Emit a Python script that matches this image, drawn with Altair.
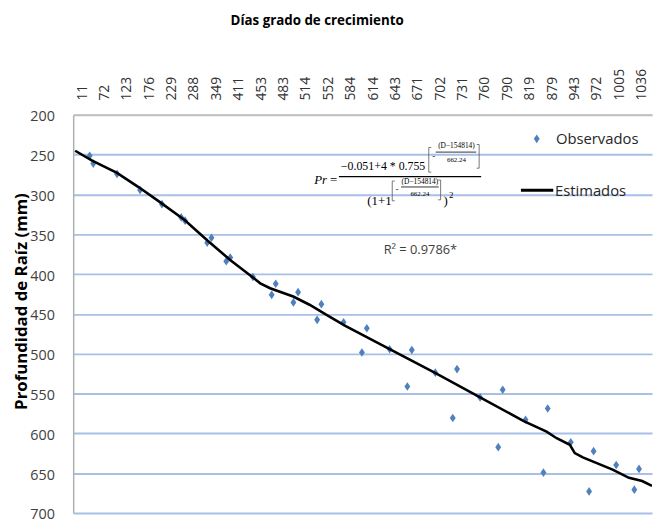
import altair as alt
import pandas as pd

# ---------------- data ----------------
cat_labels = ["11", "72", "123", "176", "229", "288", "349", "411", "453", "483",
              "514", "552", "584", "614", "643", "671", "702", "731", "760", "790",
              "819", "879", "943", "972", "1005", "1036"]

# observed points (position along the category axis, depth mm)
obs_pos = [0.34, 0.50, 1.56, 2.59, 3.57, 4.43, 4.60, 5.59, 5.78, 6.44, 6.62, 7.63,
           8.47, 8.65, 9.44, 9.65, 10.50, 10.69, 11.68, 12.50, 12.72, 13.74, 14.53,
           14.73, 15.78, 16.56, 16.75, 17.78, 18.59, 18.79, 19.81, 20.61, 20.80,
           21.83, 22.65, 22.85, 23.86, 24.67, 24.88]
obs_depth = [251.3, 261.2, 274.2, 294.4, 312.2, 328.8, 332.9, 360.6, 354.4, 383.9,
             379.3, 403.7, 426.1, 412.2, 435.6, 422.7, 457.5, 437.8, 460.5, 498.5,
             468.0, 494.4, 541.2, 495.3, 523.8, 580.8, 519.3, 554.9, 617.4, 545.3,
             583.0, 649.3, 568.9, 611.2, 673.0, 622.4, 639.8, 670.8, 644.7]

# estimated curve
est_pos = [-0.31, 0.45, 1.56, 2.52, 3.40, 4.58, 5.60, 6.63, 7.59, 7.96, 8.40, 9.43,
           10.16, 10.90, 11.78, 13.74, 15.77, 17.78, 19.73, 20.75, 21.20, 21.79,
           22.01, 22.37, 23.70, 24.43, 25.02, 25.46]
est_depth = [245.1, 257.5, 272.9, 290.7, 308.0, 332.0, 357.8, 382.6, 403.4, 411.6,
             417.8, 428.2, 438.5, 450.9, 465.5, 494.4, 524.2, 554.9, 584.7, 597.9,
             606.2, 614.5, 624.8, 630.2, 645.6, 655.9, 660.0, 666.0]

y_ticks = [200, 250, 300, 350, 400, 450, 500, 550, 600, 650, 700]

title_text = "Días grado de crecimiento"
ytitle_text = "Profundidad de Raíz (mm)"
legend_obs = "Observados"
legend_est = "Estimados"
r2_text = "R² = 0.9786*"

obs_df = pd.DataFrame({"pos": obs_pos, "depth": obs_depth})
est_df = pd.DataFrame({"pos": est_pos, "depth": est_depth})
one = pd.DataFrame({"a": [0]})

# ---------------- styles ----------------
FONT = "Open Sans, Noto Sans, sans-serif"
FONT_SERIF = "Liberation Serif, Times New Roman, serif"
BLUE = "#4f81bd"
DIAMOND = "M0,-1.25L0.85,0L0,1.25L-0.85,0Z"

label_expr = "[" + ",".join("'%s'" % l for l in cat_labels) + "][datum.value]"

xscale = alt.Scale(domain=[-0.397, 25.46], nice=False, zero=False)
yscale = alt.Scale(domain=[200, 700], reverse=True, nice=False, zero=False)

xaxis = alt.Axis(orient="top", values=list(range(len(cat_labels))), labelExpr=label_expr,
                 labelAngle=270, labelAlign="left", labelBaseline="middle",
                 labelPadding=15, ticks=False, tickSize=0, grid=False,
                 domainColor="#bfbfbf", domainWidth=1.5, labelFont=FONT,
                 labelFontSize=14, labelColor="#333333", title=None,
                 labelOverlap=False, labelFlush=False, labelBound=False, zindex=1)

yaxis = alt.Axis(values=y_ticks, grid=True,
                 gridColor={"condition": {"test": "datum.value === 200", "value": "#bfbfbf"},
                            "value": "#a8bfe6"},
                 gridWidth=2, ticks=False, tickSize=0, labelPadding=19, labelOffset=2,
                 labelFont=FONT, labelFontSize=14.5, labelColor="#404040",
                 domainColor="#b0b0b0", domainWidth=1.5, title=None,
                 labelOverlap=False, labelFlush=False)

X = alt.X("pos:Q", scale=xscale, axis=xaxis)
Y = alt.Y("depth:Q", scale=yscale, axis=yaxis)

points = alt.Chart(obs_df).mark_point(shape=DIAMOND, size=49, filled=True, color=BLUE,
                                      opacity=1).encode(x=X, y=Y)

line = alt.Chart(est_df).mark_line(color="black", strokeWidth=2.6, clip=True).encode(
    x=X, y=Y)


def txt(s, x, y, size, font, align="left", color="#000000", weight=None, style=None,
        angle=None):
    kw = dict(align=align, baseline="middle", fontSize=size, font=font, color=color)
    if weight:
        kw["fontWeight"] = weight
    if style:
        kw["fontStyle"] = style
    if angle is not None:
        kw["angle"] = angle
    return alt.Chart(one).mark_text(**kw).encode(
        x=alt.value(x), y=alt.value(y), text=alt.value(s))


def hrule(x1, x2, y, width, color="#000000"):
    return alt.Chart(one).mark_rule(color=color, strokeWidth=width).encode(
        x=alt.value(x1), x2=alt.value(x2), y=alt.value(y))


def vrule(x, y1, y2, width, color="#000000"):
    return alt.Chart(one).mark_rule(color=color, strokeWidth=width).encode(
        x=alt.value(x), y=alt.value(y1), y2=alt.value(y2))


def bracket(x, y1, y2, left=True, color="#555555"):
    d = 2.5 if left else -2.5
    return [vrule(x, y1, y2, 0.8, color),
            hrule(x, x + d, y1, 0.8, color),
            hrule(x, x + d, y2, 0.8, color)]


annots = [
    # title and y title
    txt(title_text, 247, -95, 13.5, FONT, align="center", weight="bold"),
    txt(ytitle_text, -52, 189, 17, FONT, align="center", weight="bold", angle=270),
    # legend
    alt.Chart(one).mark_point(shape=DIAMOND, size=49, filled=True, color=BLUE,
                              opacity=1).encode(x=alt.value(469.3), y=alt.value(24.3)),
    txt(legend_obs, 488.7, 24.5, 15, FONT, color="#262626"),
    hrule(453.3, 486, 76.3, 3),
    txt(legend_est, 487.7, 77, 15, FONT, color="#262626"),
    # R2
    txt(r2_text, 314.3, 137, 13, FONT, color="#404040"),
    # formula
    txt("Pr", 244, 66, 13, FONT_SERIF, style="italic"),
    txt("=", 260, 66, 13, FONT_SERIF),
    txt("−0.051+4 * 0.755", 271, 52, 12, FONT_SERIF),
    txt("-", 363.5, 42, 9, FONT_SERIF),
    txt("(D−154814)", 388, 32, 7.5, FONT_SERIF, align="center"),
    hrule(367, 408, 37.7, 0.8),
    txt("662.24", 388, 46, 7, FONT_SERIF, align="center"),
    hrule(269, 413, 62.5, 1.3),
    txt("(1+1", 297.7, 87, 13, FONT_SERIF),
    txt("-", 326.5, 76.3, 8, FONT_SERIF),
    txt("(D−154814)", 351, 68, 7.5, FONT_SERIF, align="center"),
    hrule(332, 370, 73, 0.8),
    txt("662.24", 351, 80.3, 7, FONT_SERIF, align="center"),
    txt(")", 375, 87, 13, FONT_SERIF),
    txt("2", 380.5, 81, 9, FONT_SERIF),
]
annots += bracket(360, 33, 58, left=True)
annots += bracket(411, 30, 54, left=False)
annots += bracket(323, 67, 87, left=True)
annots += bracket(372, 66, 86, left=False)

chart = alt.layer(points, line, *annots).properties(
    width=586, height=403,
    autosize=alt.AutoSizeParams(type="none"),
    padding={"left": 66, "top": 105, "right": 1, "bottom": 5},
).configure_view(strokeWidth=0)

chart.save("out.html", embed_options={"renderer": "svg", "actions": False})
